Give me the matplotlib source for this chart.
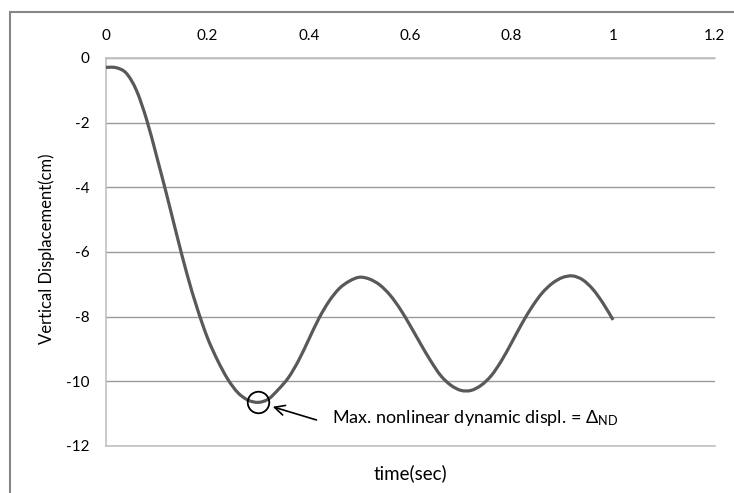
import numpy as np
import matplotlib
matplotlib.use("Agg")
import matplotlib.pyplot as plt
from matplotlib.patches import Rectangle, PathPatch
from matplotlib.path import Path

plt.rcParams["font.family"] = ["Lato", "DejaVu Sans"]
plt.rcParams["mathtext.fontset"] = "custom"
plt.rcParams["mathtext.rm"] = "Lato"
plt.rcParams["axes.unicode_minus"] = False

# time (sec) and vertical displacement (cm)
time_s = [0.00, 0.02, 0.04, 0.06, 0.08, 0.10, 0.12, 0.14, 0.16, 0.18,
          0.20, 0.22, 0.24, 0.26, 0.28, 0.30, 0.32, 0.34, 0.36, 0.38,
          0.40, 0.42, 0.44, 0.46, 0.48, 0.50, 0.52, 0.54, 0.56, 0.58,
          0.60, 0.62, 0.64, 0.66, 0.68, 0.70, 0.72, 0.74, 0.76, 0.78,
          0.80, 0.82, 0.84, 0.86, 0.88, 0.90, 0.92, 0.94, 0.96, 0.98, 1.00]
disp_cm = [-0.29, -0.30, -0.47, -1.00, -1.90, -3.05, -4.25, -5.50, -6.70, -7.75,
           -8.65, -9.35, -9.93, -10.35, -10.58, -10.65, -10.55, -10.25, -9.88, -9.35,
           -8.70, -8.05, -7.52, -7.13, -6.90, -6.78, -6.84, -7.02, -7.33, -7.76,
           -8.28, -8.83, -9.36, -9.82, -10.12, -10.28, -10.28, -10.12, -9.82, -9.36,
           -8.80, -8.22, -7.70, -7.27, -6.97, -6.79, -6.74, -6.86, -7.15, -7.58, -8.10]

x_ticks = [0, 0.2, 0.4, 0.6, 0.8, 1.0, 1.2]
x_labels = ["0", "0.2", "0.4", "0.6", "0.8", "1", "1.2"]
y_ticks = [0, -2, -4, -6, -8, -10, -12]
note = r"Max. nonlinear dynamic displ. = $\mathregular{\Delta_{ND}}$"


def smooth_path(xs, ys):
    # Excel-style smoothed line: Catmull-Rom segments as cubic Beziers
    p = np.column_stack([xs, ys])
    verts, codes = [p[0]], [Path.MOVETO]
    for i in range(len(p) - 1):
        p0 = p[i - 1] if i > 0 else p[i]
        p3 = p[i + 2] if i + 2 < len(p) else p[i + 1]
        c1 = p[i] + (p[i + 1] - p0) / 6
        c2 = p[i + 1] - (p3 - p[i]) / 6
        verts += [c1, c2, p[i + 1]]
        codes += [Path.CURVE4] * 3
    return Path(verts, codes)


fig = plt.figure(figsize=(7.34, 4.93), dpi=100)
ax = fig.add_axes([106 / 734, 1 - 446 / 493, 608.5 / 734, 388 / 493])

ax.add_patch(PathPatch(smooth_path(time_s, disp_cm), fill=False,
                       edgecolor="#595959", lw=2.3, capstyle="butt", zorder=3))

ax.set_xlim(0, 1.2)
ax.set_ylim(-12, 0)
ax.set_xticks(x_ticks)
ax.set_xticklabels(x_labels)
ax.set_yticks(y_ticks)
ax.xaxis.tick_top()
ax.tick_params(axis="both", length=0, labelsize=11, colors="black")
ax.tick_params(axis="x", pad=11)
ax.tick_params(axis="y", pad=12)

ax.set_axisbelow(True)
ax.grid(axis="y", color="#9a9a9a", lw=1.0)
for side in ["left", "top", "bottom"]:
    ax.spines[side].set_color("#c0c0c0")
    ax.spines[side].set_linewidth(1.2)
ax.spines["right"].set_visible(False)

fig.text(47 / 734, 1 - 249 / 493, "Vertical Displacement(cm)", fontsize=12,
         rotation=90, ha="center", va="center")
fig.text(410 / 734, 1 - 473 / 493, "time(sec)", fontsize=13.5, ha="center", va="center")

# circle + arrow at the maximum (most negative) displacement
i_min = int(np.argmin(disp_cm))
t_min, d_min = time_s[i_min], disp_cm[i_min]
ax.plot([t_min], [d_min], marker="o", ms=15.5, mfc="none", mec="black", mew=1.3, zorder=4)
ax.annotate("", xy=(t_min, d_min), xytext=(42, -12.7), textcoords="offset points",
            arrowprops=dict(arrowstyle="->", color="black", lw=1.2,
                            shrinkA=0, shrinkB=11, mutation_scale=18))
ax.annotate(note, xy=(t_min, d_min), xytext=(53, -11.5), textcoords="offset points",
            ha="left", va="center", fontsize=13)

# outer chart frame (cropped on the right and bottom)
fig.add_artist(Rectangle((10 / 734, -0.2), 1.2, 1.2 - 12 / 493,
                         transform=fig.transFigure, fill=False,
                         edgecolor="#868686", lw=1.5))

fig.savefig("out.png", dpi=100)
